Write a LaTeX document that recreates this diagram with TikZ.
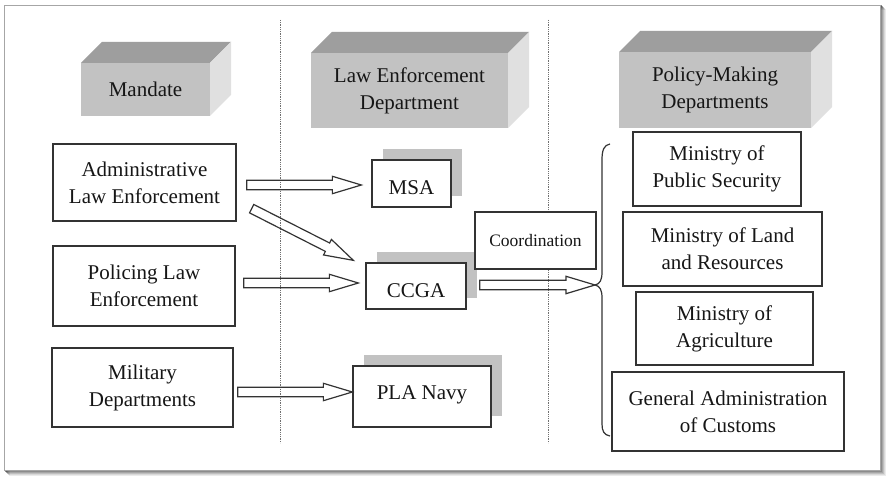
\documentclass[tikz,border=0pt]{standalone}
\usepackage{fontspec}
\setmainfont{Liberation Serif}
\newfontfamily\tms{Liberation Serif}
\usetikzlibrary{calc,shadows}
\definecolor{txt}{HTML}{161616}
\definecolor{edge}{HTML}{333333}
\definecolor{topf}{HTML}{9E9E9E}
\definecolor{frontf}{HTML}{C2C2C2}
\definecolor{sidef}{HTML}{E0E0E0}
\definecolor{shad}{HTML}{C2C2C2}
\definecolor{dotc}{HTML}{707070}
\newcommand\bigtxt{\tms\fontsize{21pt}{27pt}\selectfont}
\newcommand\smalltxt{\tms\fontsize{17.5pt}{22pt}\selectfont}
\makeatletter
\newcommand\hollowarrow[2]{%
  \path (#1) coordinate (ha-s) (#2) coordinate (ha-e);
  \pgfpointdiff{\pgfpointanchor{ha-s}{center}}{\pgfpointanchor{ha-e}{center}}%
  \edef\ha@dx{\the\pgf@x}\edef\ha@dy{\the\pgf@y}%
  \pgfmathparse{veclen(\ha@dx,\ha@dy)}\let\ha@len\pgfmathresult
  \pgfmathparse{atan2(\ha@dy,\ha@dx)}\let\ha@ang\pgfmathresult
  \begin{scope}[shift={(ha-s)},rotate=\ha@ang]
    \draw[harrow] (0pt,4.7pt) -- ({\ha@len pt-29pt},4.7pt) -- ({\ha@len pt-29pt},8.7pt)
      -- (\ha@len pt,0pt) -- ({\ha@len pt-29pt},-8.7pt) -- ({\ha@len pt-29pt},-4.7pt)
      -- (0pt,-4.7pt) -- cycle;
  \end{scope}%
}
\makeatother
% name, x1, y1, x2, y2, depth, text
\newcommand\cuboid[7]{%
  \fill[topf] (#2,#3) -- (#2+#6,#3-#6) -- (#4+#6,#3-#6) -- (#4,#3) -- cycle;
  \fill[sidef] (#4,#3) -- (#4+#6,#3-#6) -- (#4+#6,#5-#6) -- (#4,#5) -- cycle;
  \fill[frontf] (#2,#3) rectangle (#4,#5);
  \node[hdr] (#1) at ({(#2+#4)/2},{(#3+#5)/2}) {#7};
}
\begin{document}
\begin{tikzpicture}[x=1pt,y=-1pt,
  hdr/.style={text=txt,align=center,font=\bigtxt},
  box/.style={draw=edge,line width=1.3pt,fill=white,text=txt,align=center,inner sep=0pt,font=\bigtxt},
  sbox/.style={box,general shadow={fill=shad,shadow xshift=11pt,shadow yshift=11pt}},
  harrow/.style={draw=edge,line width=1.2pt,line join=miter},
  dotline/.style={dotc,line width=0.9pt,dash pattern=on 0.9pt off 0.9pt},
  brace/.style={draw=edge,line width=1.2pt}]
\useasboundingbox (0,0) rectangle (887,478);
% frame with shadow
\foreach \i/\o in {1/0.45,2/0.35,3/0.25,4/0.15,5/0.08}
  \draw[black,opacity=\o,line width=1pt] (4+\i,5+\i) rectangle (880+\i,470+\i);
\draw[draw=black!35,fill=white,line width=0.8pt] (4,5) rectangle (880,470);
% dotted separators
\draw[dotline] (280,20) -- (280,443);
\draw[dotline] (548,20) -- (548,443);
% headers
\cuboid{mandate}{81}{63}{210}{116}{21}{Mandate}
\cuboid{law}{311}{53}{508}{128}{21}{Law Enforcement\\Department}
\cuboid{policy}{619}{52}{811}{128}{21}{Policy-Making\\Departments}
% left column
\node[box,minimum width=183pt,minimum height=77pt] (adm) at (144.5,182.5) {Administrative\\Law Enforcement};
\node[box,minimum width=182pt,minimum height=80pt] (pol) at (144,286) {Policing Law\\Enforcement};
\node[box,minimum width=181pt,minimum height=79pt] (mil) at (142.5,387.5) {Military\\Departments};
% middle column
\node[sbox,minimum width=79pt,minimum height=47pt] (msa) at (411.5,183.5) {\raisebox{-4pt}[\height][\depth]{MSA}};
\node[sbox,minimum width=100pt,minimum height=46pt] (ccga) at (416,286) {\raisebox{-5pt}[\height][\depth]{CCGA}};
\node[sbox,minimum width=138pt,minimum height=61pt] (pla) at (422,396.5) {\raisebox{2pt}[\height][\depth]{PLA Navy}};
\node[box,minimum width=121pt,minimum height=57pt,font=\smalltxt] (coord) at (535.5,240.5) {Coordination};
% right column
\node[box,minimum width=168pt,minimum height=74pt] (mps) at (717,169) {Ministry of\\Public Security};
\node[box,minimum width=199pt,minimum height=74pt] (mlr) at (722.5,249) {Ministry of Land\\and Resources};
\node[box,minimum width=177pt,minimum height=73pt] (moa) at (724.5,328.5) {Ministry of\\Agriculture};
\node[box,minimum width=232pt,minimum height=79pt] (gac) at (728,411.5) {General Administration\\of Customs};
% brace
\coordinate (bracetip) at (595,285);
\draw[brace] (610,144) .. controls (604,145) and (602,150) .. (602,160) -- (602,272)
  .. controls (602,280) and (600,284) .. (bracetip)
  .. controls (600,286) and (602,290) .. (602,298) -- (602,424)
  .. controls (602,431) and (604,435) .. (610,436);
% arrows
\hollowarrow{$(adm.east)+(10,2.5)$}{$(msa.west)+(-10,1.5)$}
\hollowarrow{$(adm.south east)+(15,-13)$}{$(ccga.north west)+(-12,-2)$}
\hollowarrow{$(pol.east)+(8,-3)$}{$(ccga.west)+(-7,-3)$}
\hollowarrow{$(mil.east)+(4,4.5)$}{$(pla.west)+(0,-4.5)$}
\hollowarrow{$(ccga.east)+(13,-1)$}{bracetip}
\end{tikzpicture}
\end{document}
